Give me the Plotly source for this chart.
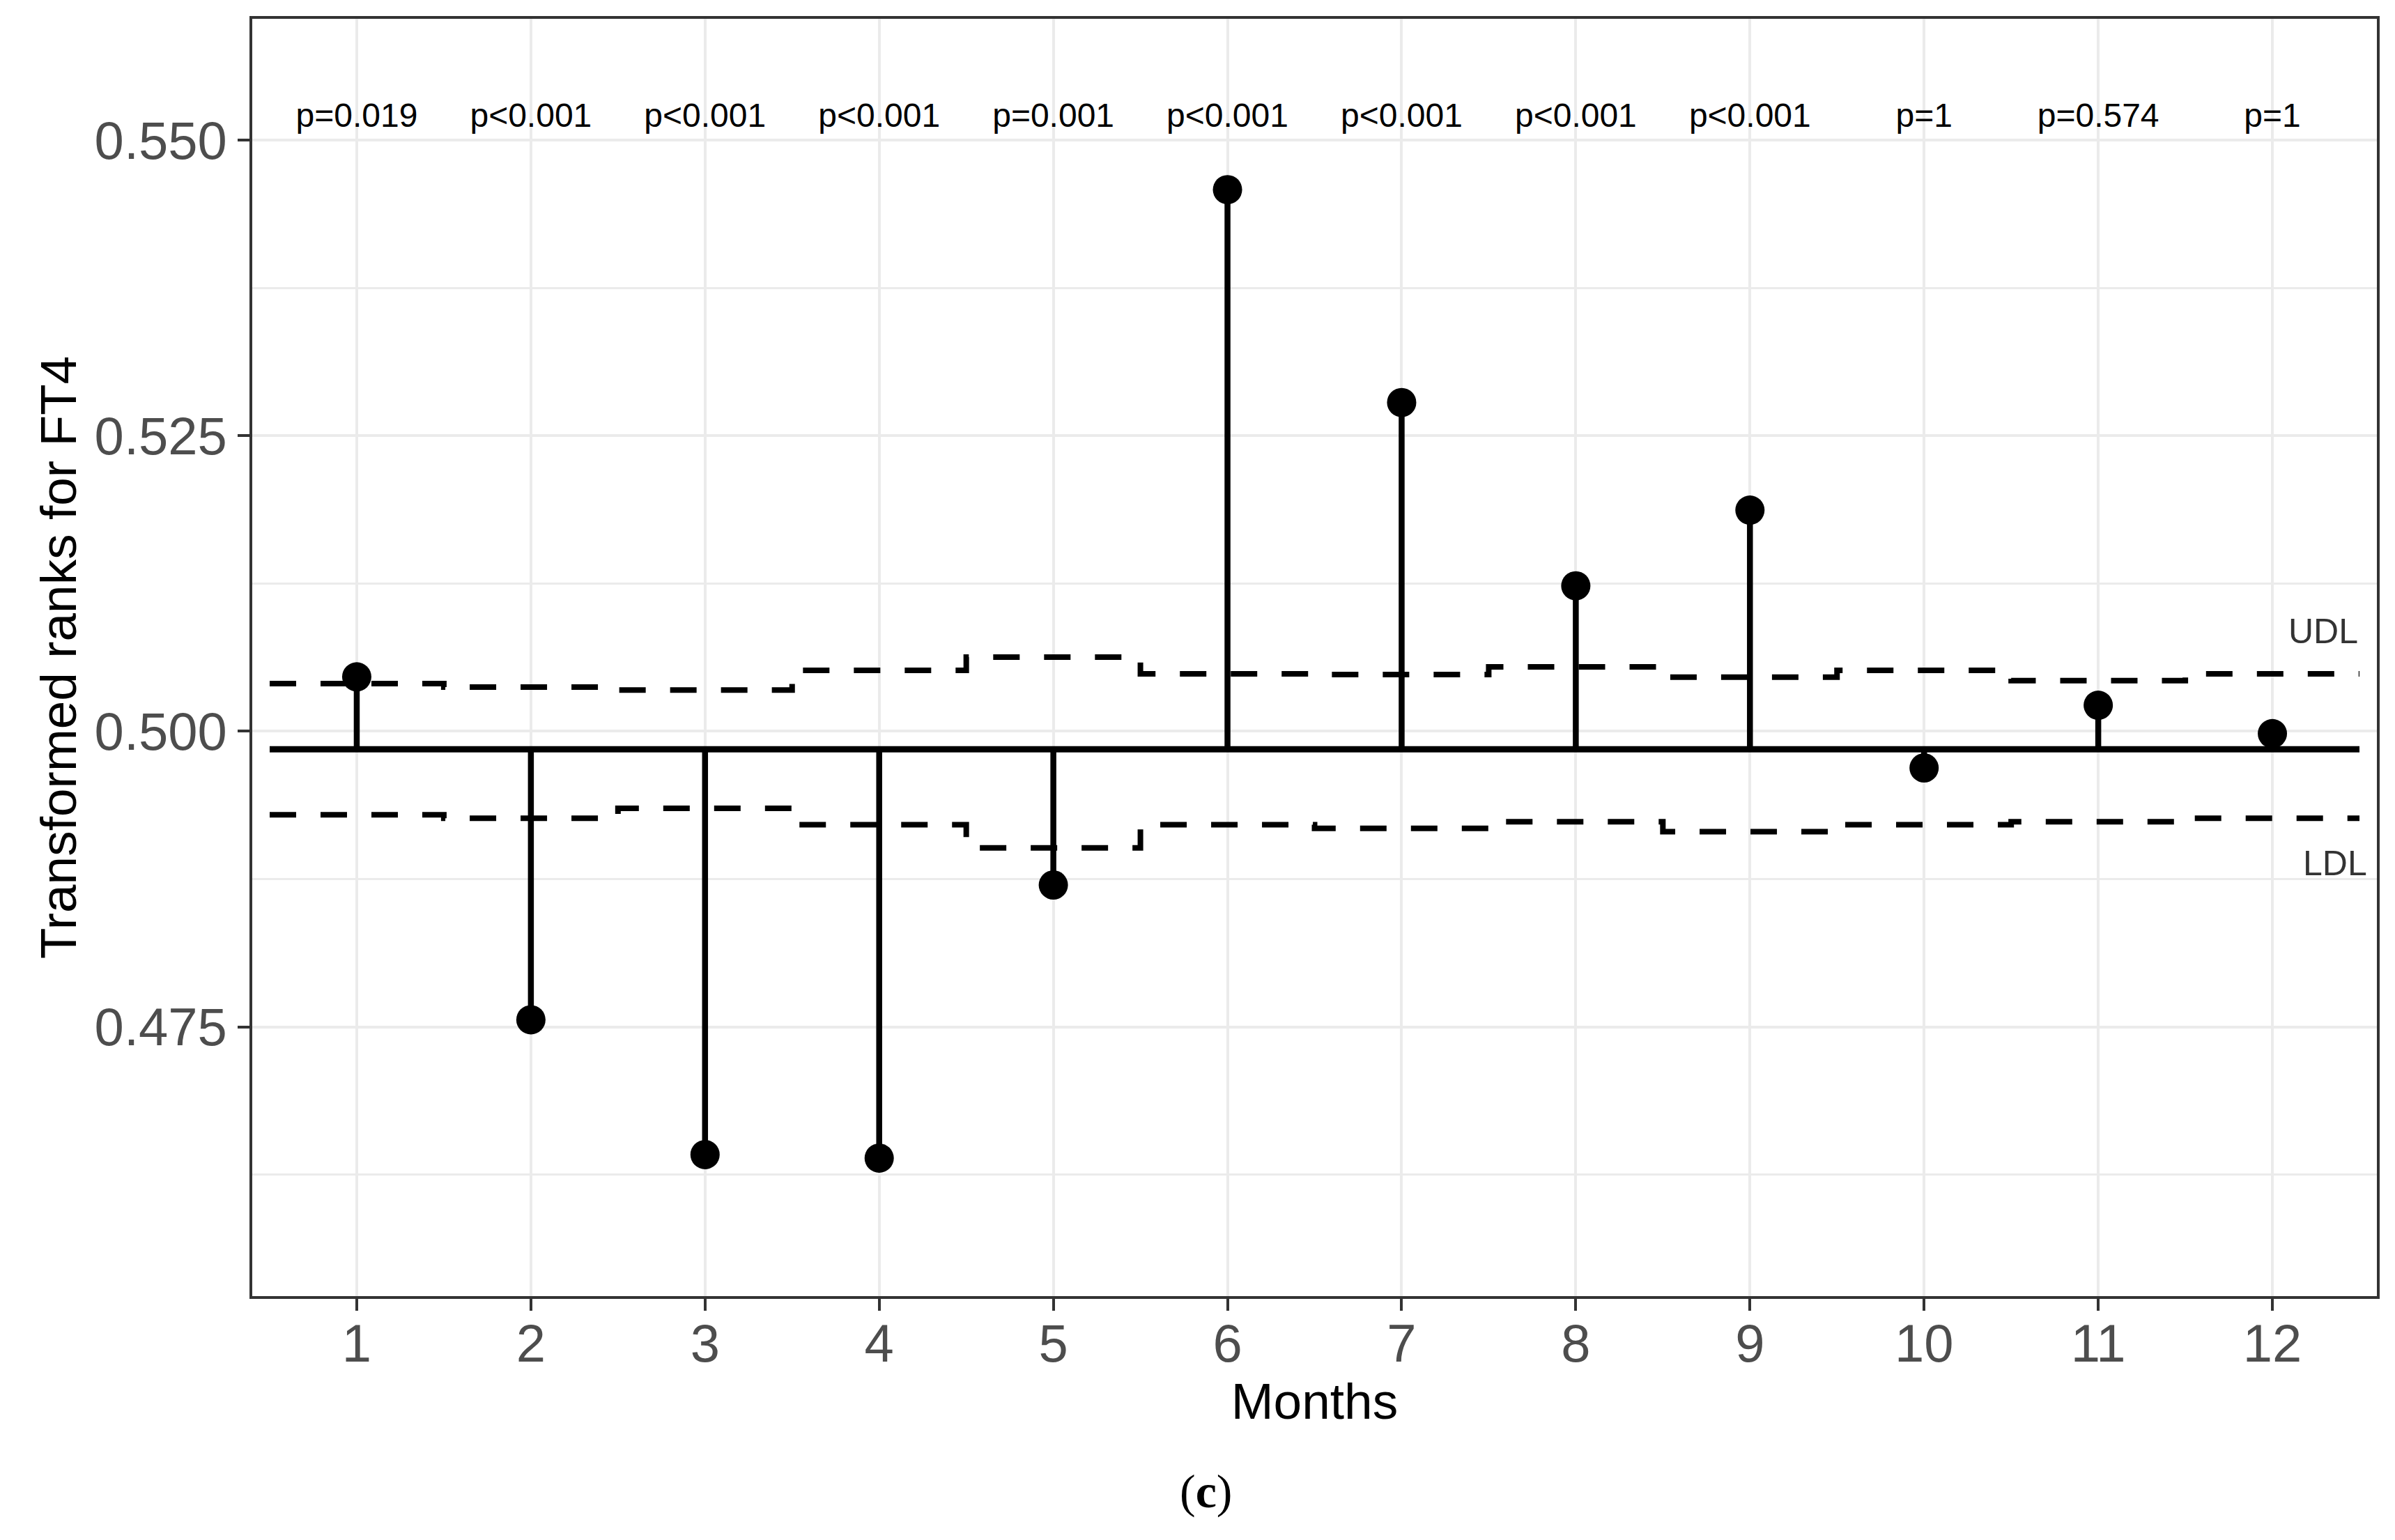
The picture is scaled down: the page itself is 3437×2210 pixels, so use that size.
import plotly.graph_objects as go

months = list(range(1, 13))
ranks = [0.5046, 0.4756, 0.4642, 0.4639, 0.4870, 0.5458, 0.5278, 0.5123, 0.5187, 0.4969, 0.5022, 0.4998]
udl = [0.50403, 0.50374, 0.50348, 0.50515, 0.50627, 0.50485, 0.50480, 0.50544, 0.50458, 0.50515, 0.50428, 0.50485]
ldl = [0.49293, 0.49264, 0.49348, 0.49209, 0.49014, 0.49209, 0.49178, 0.49234, 0.49150, 0.49209, 0.49234, 0.49264]
center = 0.49847
p_labels = ["p=0.019", "p<0.001", "p<0.001", "p<0.001", "p=0.001", "p<0.001",
            "p<0.001", "p<0.001", "p<0.001", "p=1", "p=0.574", "p=1"]
p_label_y = 0.5518
y_ticks = [0.475, 0.500, 0.525, 0.550]

FONT = "Liberation Sans, Arial, sans-serif"

fig = go.Figure()

# step limits
step_x = [m - 0.5 for m in months] + [months[-1] + 0.5]
for lim in (udl, ldl):
    fig.add_trace(go.Scatter(
        x=step_x, y=lim + [lim[-1]], mode="lines", line_shape="hv",
        line=dict(color="black", width=8, dash="38px,35px"),
        hoverinfo="skip", showlegend=False))

# center line
fig.add_trace(go.Scatter(
    x=[months[0] - 0.5, months[-1] + 0.5], y=[center, center], mode="lines",
    line=dict(color="black", width=9), hoverinfo="skip", showlegend=False))

# stems
sx, sy = [], []
for m, r in zip(months, ranks):
    sx += [m, m, None]
    sy += [center, r, None]
fig.add_trace(go.Scatter(x=sx, y=sy, mode="lines",
                         line=dict(color="black", width=8.5),
                         hoverinfo="skip", showlegend=False))

# points
fig.add_trace(go.Scatter(x=months, y=ranks, mode="markers",
                         marker=dict(color="black", size=42),
                         showlegend=False))

# p-value labels
fig.add_trace(go.Scatter(x=months, y=[p_label_y] * len(months), mode="text",
                         text=p_labels, textposition="middle center",
                         textfont=dict(family=FONT, size=48, color="black"),
                         hoverinfo="skip", showlegend=False))

fig.add_annotation(x=12.5, y=0.50845, xref="x", yref="y", text="UDL",
                   showarrow=False, xanchor="right", yanchor="middle",
                   font=dict(family=FONT, size=50, color="#333333"))
fig.add_annotation(x=12.55, y=0.48885, xref="x", yref="y", text="LDL",
                   showarrow=False, xanchor="right", yanchor="middle",
                   font=dict(family=FONT, size=50, color="#333333"))

fig.add_annotation(x=0.449, y=-0.153, xref="paper", yref="paper",
                   text="(<b>c</b>)", showarrow=False, xanchor="center",
                   yanchor="middle",
                   font=dict(family="Liberation Serif, Times New Roman, serif",
                             size=68, color="black"))

fig.update_layout(
    width=3437, height=2210,
    margin=dict(l=354, r=34, t=19, b=358, pad=0),
    paper_bgcolor="white", plot_bgcolor="white",
    font=dict(family=FONT, color="black"),
)

fig.update_xaxes(
    range=[0.4, 12.6], tickvals=months, ticktext=[str(m) for m in months],
    showgrid=True, gridcolor="#EBEBEB", gridwidth=4, zeroline=False,
    showline=True, mirror=True, linecolor="#333333", linewidth=4,
    ticks="outside", ticklen=17, tickwidth=4, tickcolor="#333333",
    ticklabelstandoff=-18,
    tickfont=dict(family=FONT, size=76, color="#4D4D4D"),
    title=dict(text="Months", font=dict(family=FONT, size=73, color="black"),
               standoff=8),
)
fig.update_yaxes(
    range=[0.45223, 0.56025], tickvals=y_ticks, tickformat=".3f",
    showgrid=True, gridcolor="#EBEBEB", gridwidth=4, zeroline=False,
    showline=True, mirror=True, linecolor="#333333", linewidth=4,
    ticks="outside", ticklen=17, tickwidth=4, tickcolor="#333333",
    tickfont=dict(family=FONT, size=76, color="#4D4D4D"),
    minor=dict(dtick=0.0125, tick0=0.4625, showgrid=True,
               gridcolor="#EBEBEB", gridwidth=3, ticks=""),
    title=dict(text="Transformed ranks for FT4",
               font=dict(family=FONT, size=73, color="black"), standoff=3),
)

fig.write_html("out.html")
